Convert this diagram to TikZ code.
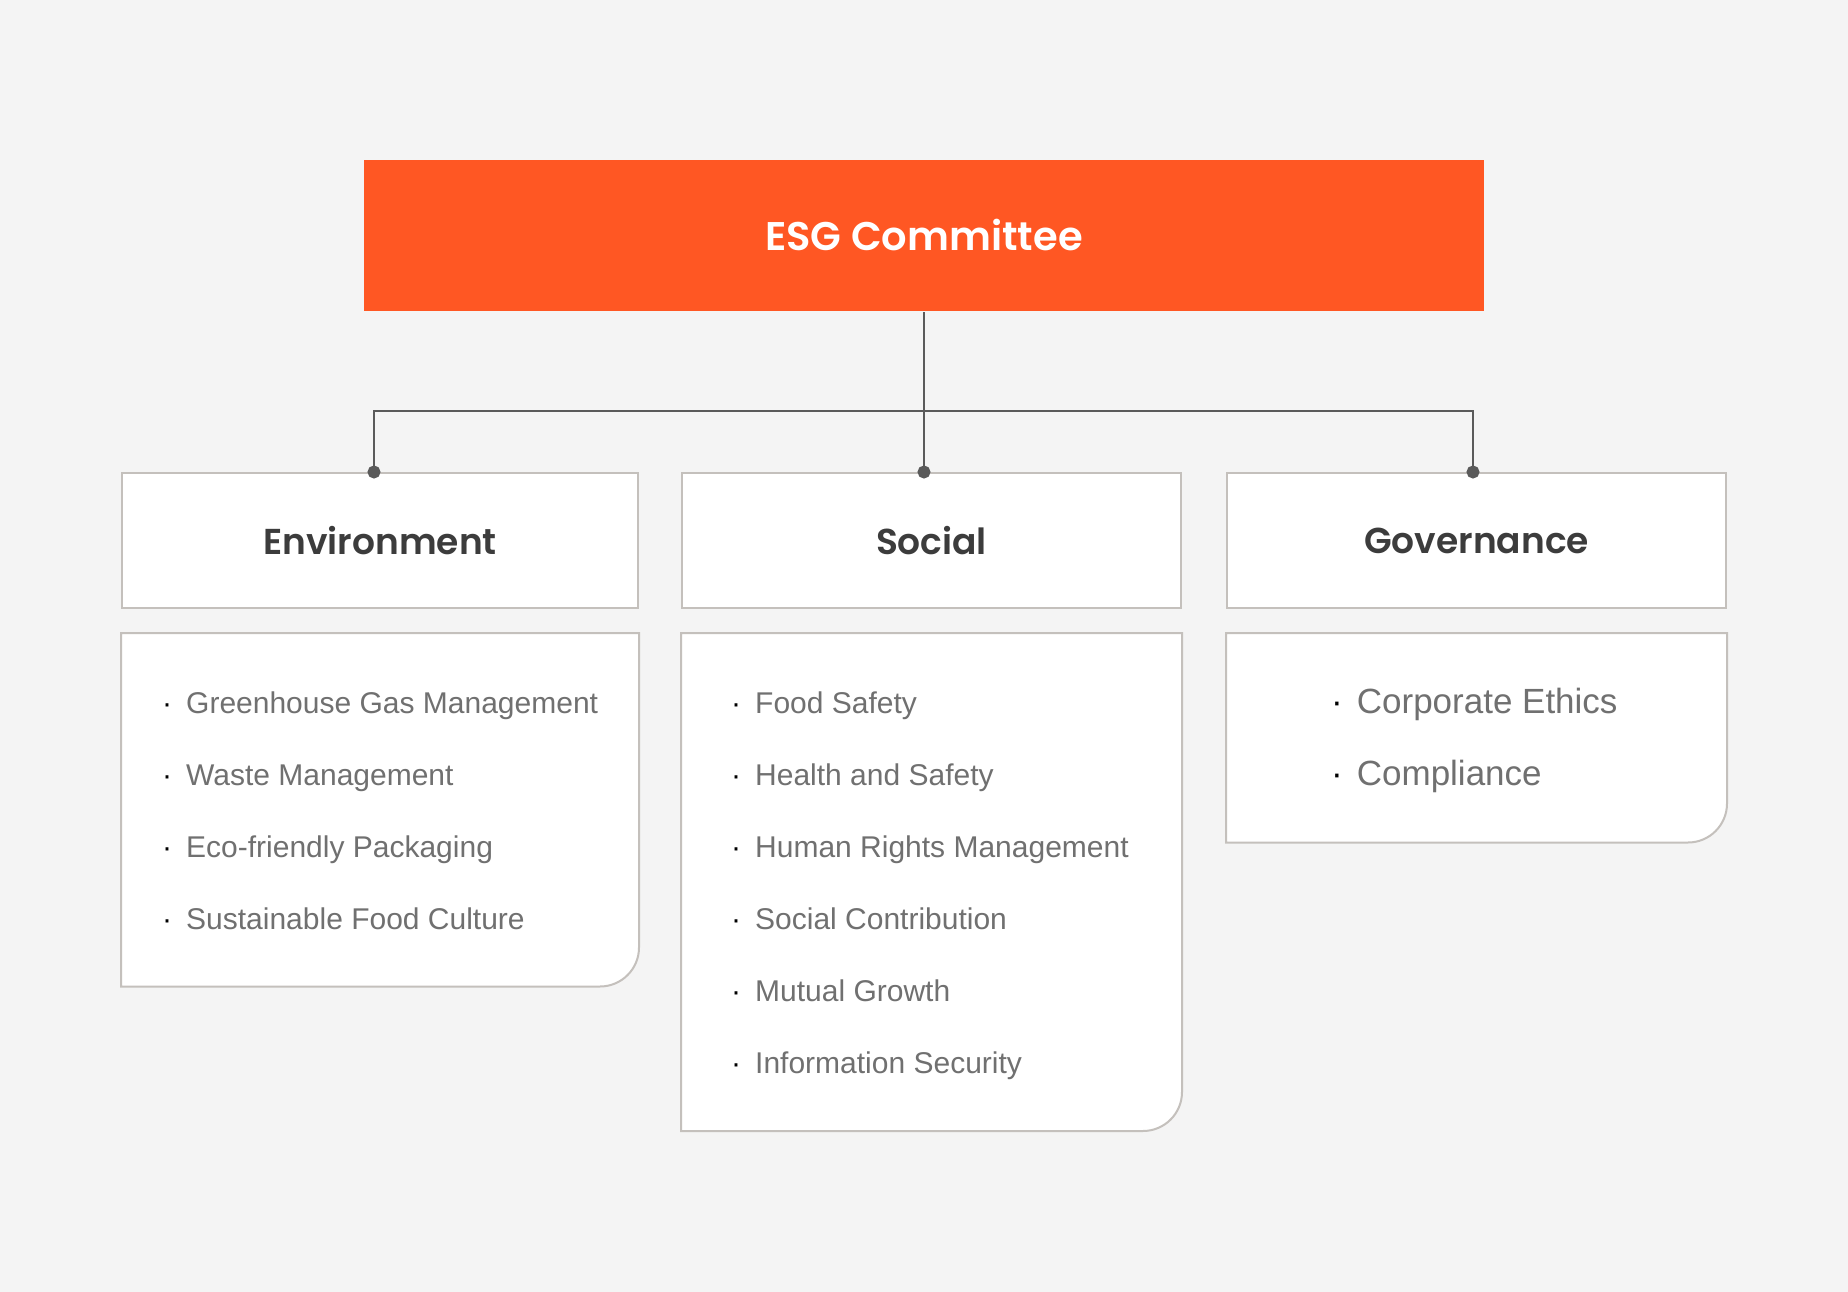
\documentclass[tikz,border=0pt]{standalone}
\usepackage{fontspec}
\setmainfont{Liberation Sans}
\newfontfamily\headfont{Poppins SemiBold}
\definecolor{esgorange}{HTML}{FF5723}
\definecolor{bggray}{HTML}{F4F4F4}
\definecolor{framegray}{HTML}{C4C0BC}
\definecolor{linegray}{HTML}{5A5A5A}
\definecolor{headgray}{HTML}{3C3C3C}
\definecolor{itemgray}{HTML}{707070}
\newcommand{\itemdot}{{\color{black}\textperiodcentered}\hspace{14pt}}

\begin{document}
\begin{tikzpicture}[x=1pt,y=1pt]
\fill[bggray] (0,0) rectangle (1848,-1292);
\useasboundingbox (0,0) rectangle (1848,-1292);

\begin{scope}[every node/.style={draw=framegray,line width=2pt,fill=white,inner sep=0pt,
              text=headgray,font=\headfont\fontsize{36}{43}\selectfont}]

    \node[fill=esgorange,draw=none,text=white,minimum width=1120pt,minimum height=151pt,
          font=\headfont\fontsize{40}{48}\selectfont] (A) at (924,-235.5)
        {ESG Committee};

    \node[minimum width=516pt,minimum height=135pt] (B) at (380,-540.5) {Environment};
    \node[minimum width=499pt,minimum height=135pt] (C) at (931.5,-540.5) {Social};
    \node[minimum width=499pt,minimum height=135pt] (D) at (1476.5,-540.5) {Governance};

    % list panels, only the lower right corner is round
    \node[draw=none,fill=none,minimum width=516pt,minimum height=351.5pt] (E) at (380,-809.75) {};
    \node[draw=none,fill=none,minimum width=499pt,minimum height=496pt] (F) at (931.5,-882) {};
    \node[draw=none,fill=none,minimum width=499pt,minimum height=207.5pt] (G) at (1476.5,-737.75) {};

\end{scope}

\begin{scope}[every path/.style={draw=framegray,line width=2pt,fill=white}]
    \path (E.north west) -- (E.north east) -- ([yshift=39pt]E.south east)
        arc[start angle=0,end angle=-90,radius=39pt] -- (E.south west) -- cycle;
    \path (F.north west) -- (F.north east) -- ([yshift=39pt]F.south east)
        arc[start angle=0,end angle=-90,radius=39pt] -- (F.south west) -- cycle;
    \path (G.north west) -- (G.north east) -- ([yshift=39pt]G.south east)
        arc[start angle=0,end angle=-90,radius=39pt] -- (G.south west) -- cycle;
\end{scope}

\begin{scope}[every node/.style={anchor=base west,inner sep=0pt,text=itemgray,
              font=\fontsize{30}{36}\selectfont}]

    \node (H) at (162,-713.7) {\itemdot Greenhouse Gas Management};
    \node (I) at (162,-785.7) {\itemdot Waste Management};
    \node (J) at (162,-857.7) {\itemdot Eco-friendly Packaging};
    \node (K) at (162,-929.7) {\itemdot Sustainable Food Culture};

    \node (L) at (731,-713) {\itemdot Food Safety};
    \node (M) at (731,-785) {\itemdot Health and Safety};
    \node (N) at (731,-857) {\itemdot Human Rights Management};
    \node (O) at (731,-929) {\itemdot Social Contribution};
    \node (P) at (731,-1001) {\itemdot Mutual Growth};
    \node (Q) at (731,-1073) {\itemdot Information Security};

    \node[font=\fontsize{35}{42}\selectfont] (R) at (1331,-713.3) {\itemdot Corporate Ethics};
    \node[font=\fontsize{35}{42}\selectfont] (S) at (1331,-785.7) {\itemdot Compliance};

\end{scope}

\begin{scope}[every path/.style={draw=linegray,line width=2pt}]

    \coordinate (X) at (924,-411);
    \coordinate (B1) at (374,-472);
    \coordinate (C1) at (924,-472);
    \coordinate (D1) at (1473,-472);

    \path (A) -- (C1);
    \path (B1) |- (X) -| (D1);

    \fill[linegray] (B1) circle (5.5pt);
    \fill[linegray] (C1) circle (5.5pt);
    \fill[linegray] (D1) circle (5.5pt);

\end{scope}

\end{tikzpicture}
\end{document}
